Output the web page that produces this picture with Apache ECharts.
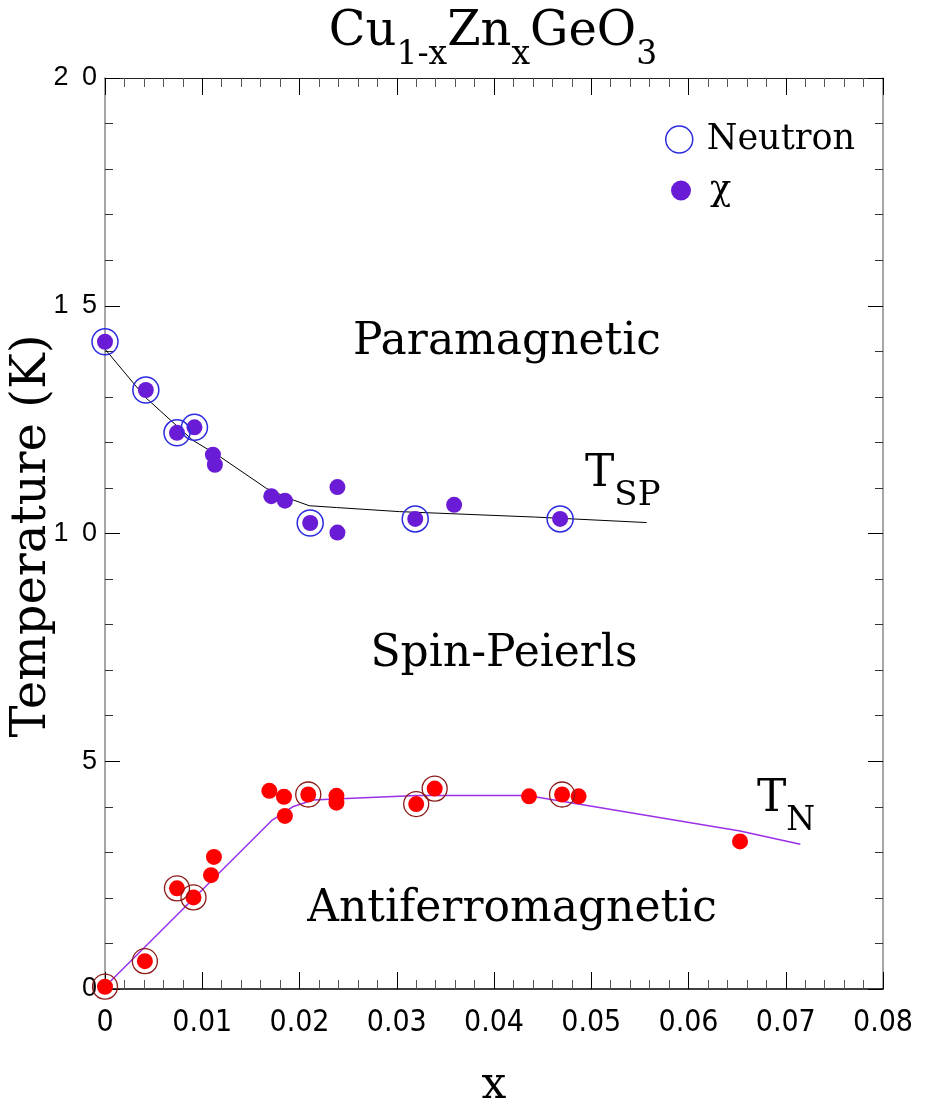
<!DOCTYPE html>
<html>
<head>
<meta charset="utf-8">
<script src="https://cdn.jsdelivr.net/npm/echarts@6/dist/echarts.min.js"></script>
<style>
  html, body { margin: 0; padding: 0; background: #fff; }
  #chart { width: 929px; height: 1104px; }
</style>
</head>
<body>
<div id="chart"></div>
<script>
// Zn concentration x and transition temperatures (K)
// Spin-Peierls transition, upper branch
const neutronSpX = [0, 0.0042, 0.0074, 0.0092, 0.0211, 0.0319, 0.0468];
const neutronSpT = [14.21, 13.15, 12.21, 12.33, 10.23, 10.32, 10.32];
const chiSpX = [0, 0.0042, 0.0074, 0.0092, 0.0111, 0.0113, 0.0171, 0.0185, 0.0211, 0.0239, 0.0239, 0.0319, 0.0359, 0.0468];
const chiSpT = [14.21, 13.15, 12.21, 12.33, 11.73, 11.51, 10.82, 10.72, 10.23, 11.02, 10.02, 10.32, 10.63, 10.32];

// Neel transition, lower branch
const neutronNX = [0, 0.0041, 0.0074, 0.0091, 0.0209, 0.0320, 0.0339, 0.0470];
const neutronNT = [0.05, 0.61, 2.21, 2.01, 4.27, 4.06, 4.40, 4.27];
const chiNX = [0, 0.0041, 0.0074, 0.0091, 0.0109, 0.0112, 0.0169, 0.0184, 0.0185, 0.0209, 0.0238, 0.0238, 0.0320, 0.0339, 0.0436, 0.0470, 0.0487, 0.0653];
const chiNT = [0.05, 0.61, 2.21, 2.01, 2.50, 2.90, 4.35, 4.22, 3.80, 4.27, 4.24, 4.09, 4.06, 4.40, 4.23, 4.27, 4.23, 3.24];

// Guide-to-the-eye curves
const tspCurveX = [0, 0.0041, 0.0090, 0.0118, 0.0166, 0.0193, 0.0210, 0.0238, 0.0303, 0.0443, 0.0557];
const tspCurveT = [14.05, 13.00, 12.05, 11.69, 10.99, 10.74, 10.61, 10.57, 10.48, 10.36, 10.24];
const tnCurveX = [0, 0.0172, 0.0193, 0.0214, 0.0236, 0.0321, 0.0428, 0.0445, 0.0653, 0.0715];
const tnCurveT = [0.05, 3.71, 4.00, 4.15, 4.17, 4.25, 4.25, 4.21, 3.47, 3.18];

// Tick labels
const xTickLabels = ['0', '0.01', '0.02', '0.03', '0.04', '0.05', '0.06', '0.07', '0.08'];
const yTickLabels = ['0', '5', '10', '15', '20'];

const zip = (xs, ys) => xs.map((v, i) => [v, ys[i]]);

const SERIF = "'DejaVu Serif', 'Liberation Serif', serif";
const SANS_NARROW = "'Liberation Sans Narrow', 'DejaVu Sans Condensed', 'Liberation Sans', sans-serif";
const SANS = "'Liberation Sans', 'DejaVu Sans', sans-serif";

const BLUE = '#2b2bdf';
const PURPLE = '#6a1bd6';
const RED = '#ff0000';
const DARKRED = '#8b1a1a';
const CURVE_PURPLE = '#9b30e8';

const xAxisBase = {
  type: 'value', min: 0, max: 0.08, interval: 0.01,
  splitLine: { show: false },
  axisTick: { show: true, inside: true, length: 17, lineStyle: { color: '#000', width: 1 } },
  minorTick: { show: true, splitNumber: 5, length: 9, lineStyle: { color: '#555', width: 1 } },
  minorSplitLine: { show: false }
};
const yAxisBase = {
  type: 'value', min: 0, max: 20, interval: 5,
  splitLine: { show: false },
  axisTick: { show: true, inside: true, length: 15, lineStyle: { color: '#000', width: 1 } },
  minorTick: { show: true, splitNumber: 5, length: 8, lineStyle: { color: '#333', width: 1 } },
  minorSplitLine: { show: false }
};

// Plain serif annotation text
function serifText(text, x, y, size, extra) {
  return Object.assign({
    type: 'text', x: x, y: y, z: 10,
    style: {
      text: text, fontSize: size, fontFamily: SERIF, fill: '#000',
      align: 'center', textAlign: 'center', verticalAlign: 'middle', textVerticalAlign: 'middle'
    }
  }, extra || {});
}

const chart = echarts.init(document.getElementById('chart'), null, { renderer: 'canvas' });

chart.setOption({
  backgroundColor: '#fff',
  animation: false,
  grid: { left: 105, right: 46, top: 78, bottom: 115, containLabel: false, outerBoundsMode: 'none' },
  xAxis: [
    Object.assign({}, xAxisBase, {
      position: 'bottom',
      axisLine: { show: true, onZero: false, lineStyle: { color: '#000', width: 1.5 } },
      axisLabel: {
        show: true, margin: 19, fontSize: 30, color: '#000', fontFamily: SANS_NARROW,
        formatter: v => xTickLabels[Math.round(v / 0.01)]
      },
      name: 'x', nameLocation: 'middle', nameGap: 76,
      nameTextStyle: { fontSize: 44, fontFamily: SERIF, color: '#000' }
    }),
    Object.assign({}, xAxisBase, {
      position: 'top',
      axisLine: { show: true, onZero: false, lineStyle: { color: '#222', width: 1.2 } },
      axisLabel: { show: false }
    })
  ],
  yAxis: [
    Object.assign({}, yAxisBase, {
      position: 'left',
      axisLine: { show: true, onZero: false, lineStyle: { color: '#888', width: 1.5 } },
      axisLabel: {
        show: true, margin: 8, fontSize: 27, color: '#000', fontFamily: SANS,
        formatter: v => yTickLabels[Math.round(v / 5)].split('').join('\u2002')
      }
    }),
    Object.assign({}, yAxisBase, {
      position: 'right',
      axisLine: { show: true, onZero: false, lineStyle: { color: '#888', width: 1.5 } },
      axisLabel: { show: false }
    })
  ],
  legend: [
    {
      left: 665, top: 122, orient: 'vertical', padding: 0,
      itemWidth: 27, itemHeight: 27, selectedMode: false,
      textStyle: { fontSize: 35, fontFamily: SERIF, color: '#000', padding: [0, 0, 0, 9] },
      data: [{ name: 'Neutron', icon: 'circle',
        itemStyle: { color: 'rgba(0,0,0,0)', borderColor: BLUE, borderWidth: 1.5 } }]
    },
    {
      left: 671, top: 173, orient: 'vertical', padding: 0,
      itemWidth: 20, itemHeight: 20, selectedMode: false,
      textStyle: { fontSize: 35, fontFamily: SERIF, color: '#000', padding: [0, 0, 0, 14] },
      data: [{ name: 'χ', icon: 'circle', itemStyle: { color: PURPLE, borderWidth: 0 } }]
    }
  ],
  series: [
    {
      type: 'line', name: 'T_SP curve', data: zip(tspCurveX, tspCurveT),
      showSymbol: false, symbol: 'none', smooth: false, z: 1, silent: true,
      lineStyle: { color: '#000', width: 1 }
    },
    {
      type: 'line', name: 'T_N curve', data: zip(tnCurveX, tnCurveT),
      showSymbol: false, symbol: 'none', smooth: false, z: 1, silent: true,
      lineStyle: { color: CURVE_PURPLE, width: 1.5 }
    },
    {
      type: 'scatter', name: 'χ', data: zip(chiSpX, chiSpT), z: 2,
      symbol: 'circle', symbolSize: 16, itemStyle: { color: PURPLE, opacity: 1 }
    },
    {
      type: 'scatter', name: 'χ', data: zip(chiNX, chiNT), z: 2,
      symbol: 'circle', symbolSize: 16, itemStyle: { color: RED, opacity: 1 }
    },
    {
      type: 'scatter', name: 'Neutron', data: zip(neutronSpX, neutronSpT), z: 3,
      symbol: 'circle', symbolSize: 26,
      itemStyle: { color: 'rgba(0,0,0,0)', borderColor: BLUE, borderWidth: 1.5, opacity: 1 }
    },
    {
      type: 'scatter', name: 'Neutron', data: zip(neutronNX, neutronNT), z: 3,
      symbol: 'circle', symbolSize: 25,
      itemStyle: { color: 'rgba(0,0,0,0)', borderColor: DARKRED, borderWidth: 1.3, opacity: 1 }
    }
  ],
  graphic: [
    {
      type: 'text', x: 493, y: -6, z: 10,
      style: {
        text: '{m|Cu}{s|1-x}{m|Zn}{s|x}{m|GeO}{s|3}',
        align: 'center', textAlign: 'center', verticalAlign: 'top', textVerticalAlign: 'top',
        fill: '#000',
        rich: {
          m: { fontSize: 48, fontFamily: SERIF, lineHeight: 78, fill: '#000' },
          s: { fontSize: 33, fontFamily: SERIF, verticalAlign: 'bottom', fill: '#000' }
        }
      }
    },
    serifText('Temperature (K)', 33, 536, 48, { rotation: Math.PI / 2 }),
    serifText('Paramagnetic', 507, 343, 44),
    serifText('Spin-Peierls', 504, 655, 44),
    serifText('Antiferromagnetic', 512, 910, 44),
    {
      type: 'text', x: 585, y: 437, z: 10,
      style: {
        text: '{m|T}{s|SP}', align: 'left', textAlign: 'left', verticalAlign: 'top', textVerticalAlign: 'top',
        fill: '#000',
        rich: {
          m: { fontSize: 44, fontFamily: SERIF, lineHeight: 76, fill: '#000' },
          s: { fontSize: 34, fontFamily: SERIF, verticalAlign: 'bottom', fill: '#000' }
        }
      }
    },
    {
      type: 'text', x: 757, y: 762, z: 10,
      style: {
        text: '{m|T}{s|N}', align: 'left', textAlign: 'left', verticalAlign: 'top', textVerticalAlign: 'top',
        fill: '#000',
        rich: {
          m: { fontSize: 44, fontFamily: SERIF, lineHeight: 76, fill: '#000' },
          s: { fontSize: 33, fontFamily: SERIF, verticalAlign: 'bottom', fill: '#000' }
        }
      }
    }
  ]
});
</script>
</body>
</html>
